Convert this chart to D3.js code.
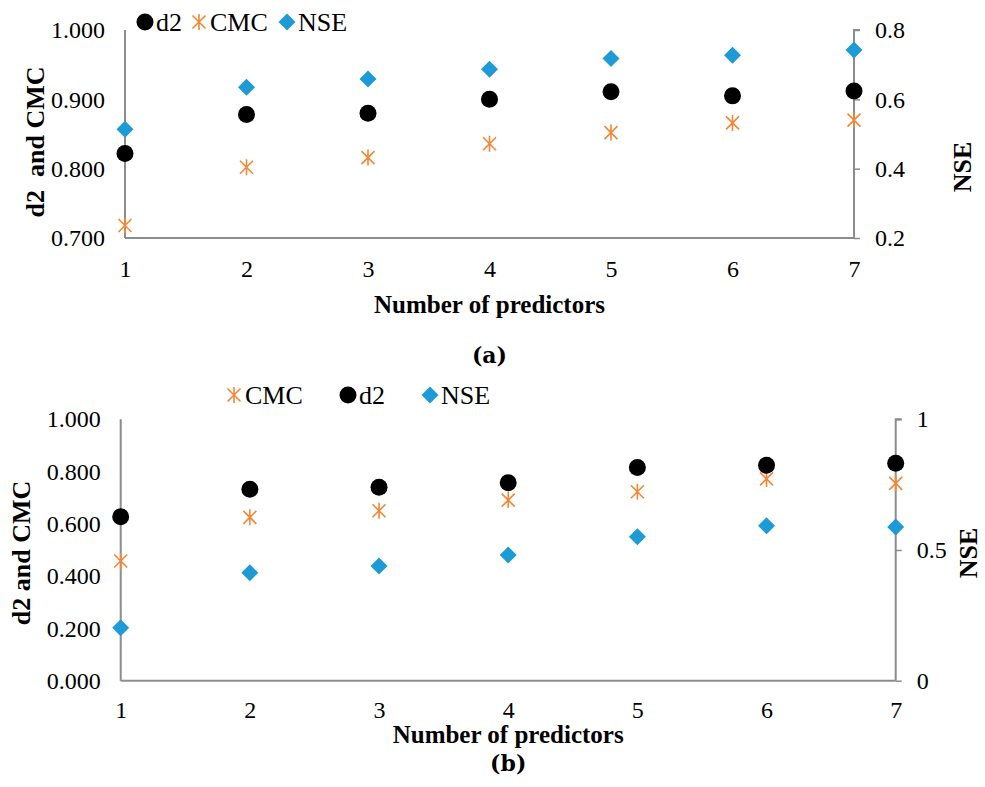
<!DOCTYPE html>
<html>
<head>
  <script src="https://d3js.org/d3.v7.min.js"></script>
  <style>
    body { margin: 0; background: #fff; }
    text { font-family: "Liberation Serif", "Times New Roman", serif; fill: #000; }
    .title { font-weight: bold; }
  </style>
</head>
<body>
<svg width="985" height="787"></svg>
<script>
  // Number of predictors
  const predictors = [1, 2, 3, 4, 5, 6, 7];

  // Panel (a)
  const d2A  = [0.822, 0.878, 0.880, 0.900, 0.911, 0.905, 0.912];
  const cmcA = [0.718, 0.802, 0.816, 0.836, 0.852, 0.866, 0.870];
  const nseA = [0.514, 0.635, 0.659, 0.687, 0.718, 0.727, 0.742];
  const leftTicksA  = [0.7, 0.8, 0.9, 1.0];
  const rightTicksA = [0.2, 0.4, 0.6, 0.8];

  // Panel (b)
  const d2B  = [0.627, 0.732, 0.740, 0.757, 0.816, 0.824, 0.832];
  const cmcB = [0.458, 0.625, 0.650, 0.691, 0.723, 0.772, 0.755];
  const nseB = [0.203, 0.413, 0.439, 0.481, 0.551, 0.593, 0.588];
  const leftTicksB  = [0, 0.2, 0.4, 0.6, 0.8, 1.0];
  const rightTicksB = [0, 0.5, 1];

  const orange = "#F58634", blue = "#1E9AD6", gray = "#8c8c8c";
  const svg = d3.select("svg");

  const markers = {
    d2:  g => g.append("circle").attr("r", 8.5).attr("fill", "#000"),
    cmc: g => g.append("path").attr("d", "M-6.5,-6.5L6.5,6.5M-6.5,6.5L6.5,-6.5M0,-8L0,8")
                .attr("stroke", orange).attr("stroke-width", 1.6).attr("fill", "none"),
    nse: g => g.append("path").attr("d", "M0,-8.5L8.5,0L0,8.5L-8.5,0Z").attr("fill", blue)
  };

  function panel(p) {
    const g = svg.append("g");
    const x = d3.scaleLinear().domain([1, 7]).range([p.x0, p.x1]);
    const yL = d3.scaleLinear().domain(p.leftDomain).range([p.yBot, p.yTop]);
    const yR = d3.scaleLinear().domain(p.rightDomain).range([p.yBot, p.yTop]);

    // left axis (no tick marks)
    const la = g.append("g").attr("transform", `translate(${p.x0},0)`)
      .call(d3.axisLeft(yL).tickValues(p.leftTicks).tickSize(0).tickPadding(20).tickFormat(d3.format(".3f")));
    // right axis with outward ticks
    const ra = g.append("g").attr("transform", `translate(${p.x1},0)`)
      .call(d3.axisRight(yR).tickValues(p.rightTicks).tickSize(6).tickPadding(15).tickFormat(p.rightFormat));
    // bottom axis
    const ba = g.append("g").attr("transform", `translate(0,${p.yBot})`)
      .call(d3.axisBottom(x).tickValues(predictors).tickSize(0).tickPadding(p.xPad).tickFormat(d3.format("d")));

    [la, ra, ba].forEach(a => {
      a.select(".domain").attr("stroke", gray).attr("stroke-width", 2);
      a.selectAll(".tick line").attr("stroke", gray).attr("stroke-width", 1.5);
      a.selectAll(".tick text").style("font-family", "'Liberation Serif', serif").style("font-size", "24px").attr("fill", "#000");
    });
    la.select(".domain").attr("d", `M0,${p.yBot}V${p.yTop}`);
    ra.select(".domain").attr("d", `M6,${p.yTop}H0V${p.yBot}`);
    ba.select(".domain").attr("d", `M${p.x0},0H${p.x1}`);

    // points
    const series = [
      { key: "cmc", vals: p.cmc, y: yL },
      { key: "d2",  vals: p.d2,  y: yL },
      { key: "nse", vals: p.nse, y: yR }
    ];
    series.forEach(s => {
      predictors.forEach((n, i) => {
        const m = g.append("g").attr("transform", `translate(${x(n)},${s.y(s.vals[i])})`);
        markers[s.key](m);
      });
    });

    // legend
    p.legend.forEach(l => {
      const m = g.append("g").attr("transform", `translate(${l.x},${p.legendY})`);
      markers[l.key](m);
      g.append("text").attr("x", l.x + 11).attr("y", p.legendY + 9)
        .style("font-size", "26px").text(l.label);
    });

    // axis titles
    g.append("text").attr("class", "title")
      .attr("transform", `translate(${p.leftTitleX},${p.leftTitleY}) rotate(-90)`)
      .attr("text-anchor", "middle").style("font-size", "26px").text(p.leftTitle);
    g.append("text").attr("class", "title")
      .attr("transform", `translate(${p.rightTitleX},${p.rightTitleY}) rotate(-90)`)
      .attr("text-anchor", "middle").style("font-size", "26px").text("NSE");
    g.append("text").attr("class", "title")
      .attr("x", (p.x0 + p.x1) / 2).attr("y", p.xTitleY)
      .attr("text-anchor", "middle").style("font-size", "25px").text("Number of predictors");
    g.append("text")
      .attr("x", (p.x0 + p.x1) / 2).attr("y", p.capY)
      .attr("text-anchor", "middle").style("font-size", "22px")
      .style("font-family", "'DejaVu Serif', serif").style("font-weight", "bold")
      .text(p.cap);
  }

  panel({
    x0: 125, x1: 854, yTop: 30, yBot: 238, xPad: 22,
    leftDomain: [0.7, 1.0], rightDomain: [0.2, 0.8],
    leftTicks: leftTicksA, rightTicks: rightTicksA, rightFormat: d3.format(".1f"),
    d2: d2A, cmc: cmcA, nse: nseA,
    legendY: 22,
    legend: [{ key: "d2", x: 145, label: "d2" }, { key: "cmc", x: 199, label: "CMC" }, { key: "nse", x: 287, label: "NSE" }],
    leftTitle: "d2\u00a0\u00a0and CMC", leftTitleX: 44, leftTitleY: 142,
    rightTitleX: 971, rightTitleY: 167,
    xTitleY: 313, cap: "(a)", capY: 363
  });

  panel({
    x0: 120.7, x1: 895.7, yTop: 419.3, yBot: 680.7, xPad: 20,
    leftDomain: [0, 1.0], rightDomain: [0, 1],
    leftTicks: leftTicksB, rightTicks: rightTicksB, rightFormat: d => d3.format("")(d),
    d2: d2B, cmc: cmcB, nse: nseB,
    legendY: 395,
    legend: [{ key: "cmc", x: 234, label: "CMC" }, { key: "d2", x: 348, label: "d2" }, { key: "nse", x: 430, label: "NSE" }],
    leftTitle: "d2 and CMC", leftTitleX: 30, leftTitleY: 553,
    rightTitleX: 977, rightTitleY: 553,
    xTitleY: 743, cap: "(b)", capY: 771
  });
</script>
</body>
</html>
